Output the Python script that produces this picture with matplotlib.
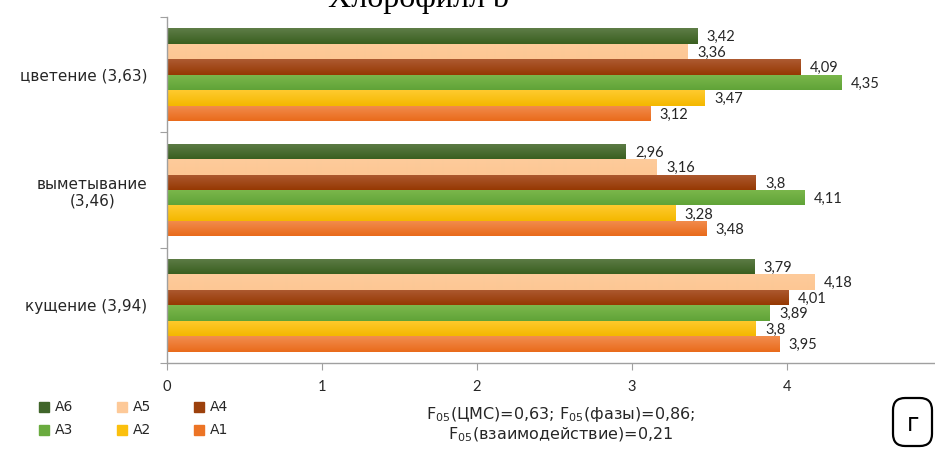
import numpy as np
import matplotlib.pyplot as plt
from matplotlib.colors import LinearSegmentedColormap
from matplotlib.patches import FancyBboxPatch

# ---------- data ----------
phases = ["кущение (3,94)", "выметывание\n(3,46)", "цветение (3,63)"]
series = ["A1", "A2", "A3", "A4", "A5", "A6"]

a1 = [3.95, 3.48, 3.12]
a2 = [3.80, 3.28, 3.47]
a3 = [3.89, 4.11, 4.35]
a4 = [4.01, 3.80, 4.09]
a5 = [4.18, 3.16, 3.36]
a6 = [3.79, 2.96, 3.42]
values = [a1, a2, a3, a4, a5, a6]

# top / bottom shade of each bar fill
shades = [
    ("#f28d4f", "#e96b1b"),   # A1
    ("#ffca2e", "#f4b800"),   # A2
    ("#7cb84c", "#60a338"),   # A3
    ("#ad5a31", "#963903"),   # A4
    ("#fdcb9b", "#fdc794"),   # A5
    ("#5e7d47", "#3a5f20"),   # A6
]
legend_colors = ["#ec7425", "#fbc00e", "#6aab3f", "#9c410c", "#fdc998", "#40652a"]

fmt = lambda v: f"{v:g}".replace(".", ",")

W, H = 935, 451
fig = plt.figure(figsize=(W / 100, H / 100), dpi=100)
ax = fig.add_axes([167 / W, 1 - 363 / H, 768 / W, (363 - 17) / H])

n = len(series)
h = 0.134
y0 = np.arange(len(phases))

for i, (name, vals) in enumerate(zip(series, values)):
    ypos = y0 + (i - (n - 1) / 2) * h
    bars = ax.barh(ypos, vals, height=h, color=legend_colors[i],
                   edgecolor="none", label=name, zorder=2)
    cmap = LinearSegmentedColormap.from_list(name, [shades[i][1], shades[i][0]])
    for b, v in zip(bars, vals):
        x0, yb = b.get_x(), b.get_y()
        im = ax.imshow(np.linspace(0, 1, 32).reshape(-1, 1), cmap=cmap,
                       extent=[x0, x0 + v, yb, yb + h], origin="lower",
                       aspect="auto", zorder=2.5, interpolation="bilinear")
        im.set_clip_path(b)
        ax.text(v + 0.06, yb + h * 0.42, fmt(v), ha="left", va="center",
                fontsize=10.5, family="Lato", color="#262626", zorder=3)

ax.set_xlim(0, 768 / 155)
ax.set_ylim(-0.5, len(phases) - 0.5)

ax.set_xticks([0, 1, 2, 3, 4])
ax.set_xticklabels(["0", "1", "2", "3", "4"], family="Lato", fontsize=10.5,
                   color="#262626")
ax.tick_params(axis="x", direction="out", length=5, color="#a0a0a0", pad=7)

ax.set_yticks([-0.5, 0.5, 1.5, 2.5])
ax.set_yticklabels([])
ax.set_yticks(y0, minor=True)
ax.set_yticklabels(phases, minor=True, fontsize=11, color="#262626")
ax.tick_params(axis="y", which="major", direction="out", length=5, color="#a0a0a0")
ax.tick_params(axis="y", which="minor", length=0, pad=14)
for lab in ax.get_yticklabels(minor=True):
    lab.set_multialignment("center")

for s in ["top", "right"]:
    ax.spines[s].set_visible(False)
for s in ["left", "bottom"]:
    ax.spines[s].set_color("#a0a0a0")
    ax.spines[s].set_linewidth(1.0)

# legend: A6 A5 A4 / A3 A2 A1
order = [5, 4, 3, 2, 1, 0]
lx = [39, 117, 194]
ly = [407, 430]
for k, idx in enumerate(order):
    col, row = k % 3, k // 3
    px, py = lx[col] / W, 1 - ly[row] / H
    fig.patches.append(plt.Rectangle((px, py - 5 / H), 10 / W, 10 / H,
                                     transform=fig.transFigure,
                                     color=legend_colors[idx]))
    fig.text(px + 16 / W, py, series[idx], ha="left", va="center",
             fontsize=10, color="#262626")

# F05 note
fig.text(561 / W, 1 - 414 / H, "F$_{05}$(ЦМС)=0,63; F$_{05}$(фазы)=0,86;",
         ha="center", va="center", fontsize=11.5, color="#262626")
fig.text(561 / W, 1 - 435 / H, "F$_{05}$(взаимодействие)=0,21",
         ha="center", va="center", fontsize=11.5, color="#262626")

# panel letter in a rounded box
fig.patches.append(FancyBboxPatch((893 / W, 1 - 446 / H), 39 / W, 48 / H,
                                  boxstyle="round,pad=0,rounding_size=0.013",
                                  transform=fig.transFigure, fc="white",
                                  ec="black", lw=1.6, mutation_aspect=W / H))
fig.text(913 / W, 1 - 424 / H, "г", ha="center", va="center",
         fontsize=17, color="black")

# chart title, only its lower part lies in frame
fig.text(418 / W, 1 - 7 / H, "Хлорофилл b", ha="center", va="baseline",
         fontsize=23, family="Liberation Serif", color="black")

fig.savefig("out.png", dpi=100)
